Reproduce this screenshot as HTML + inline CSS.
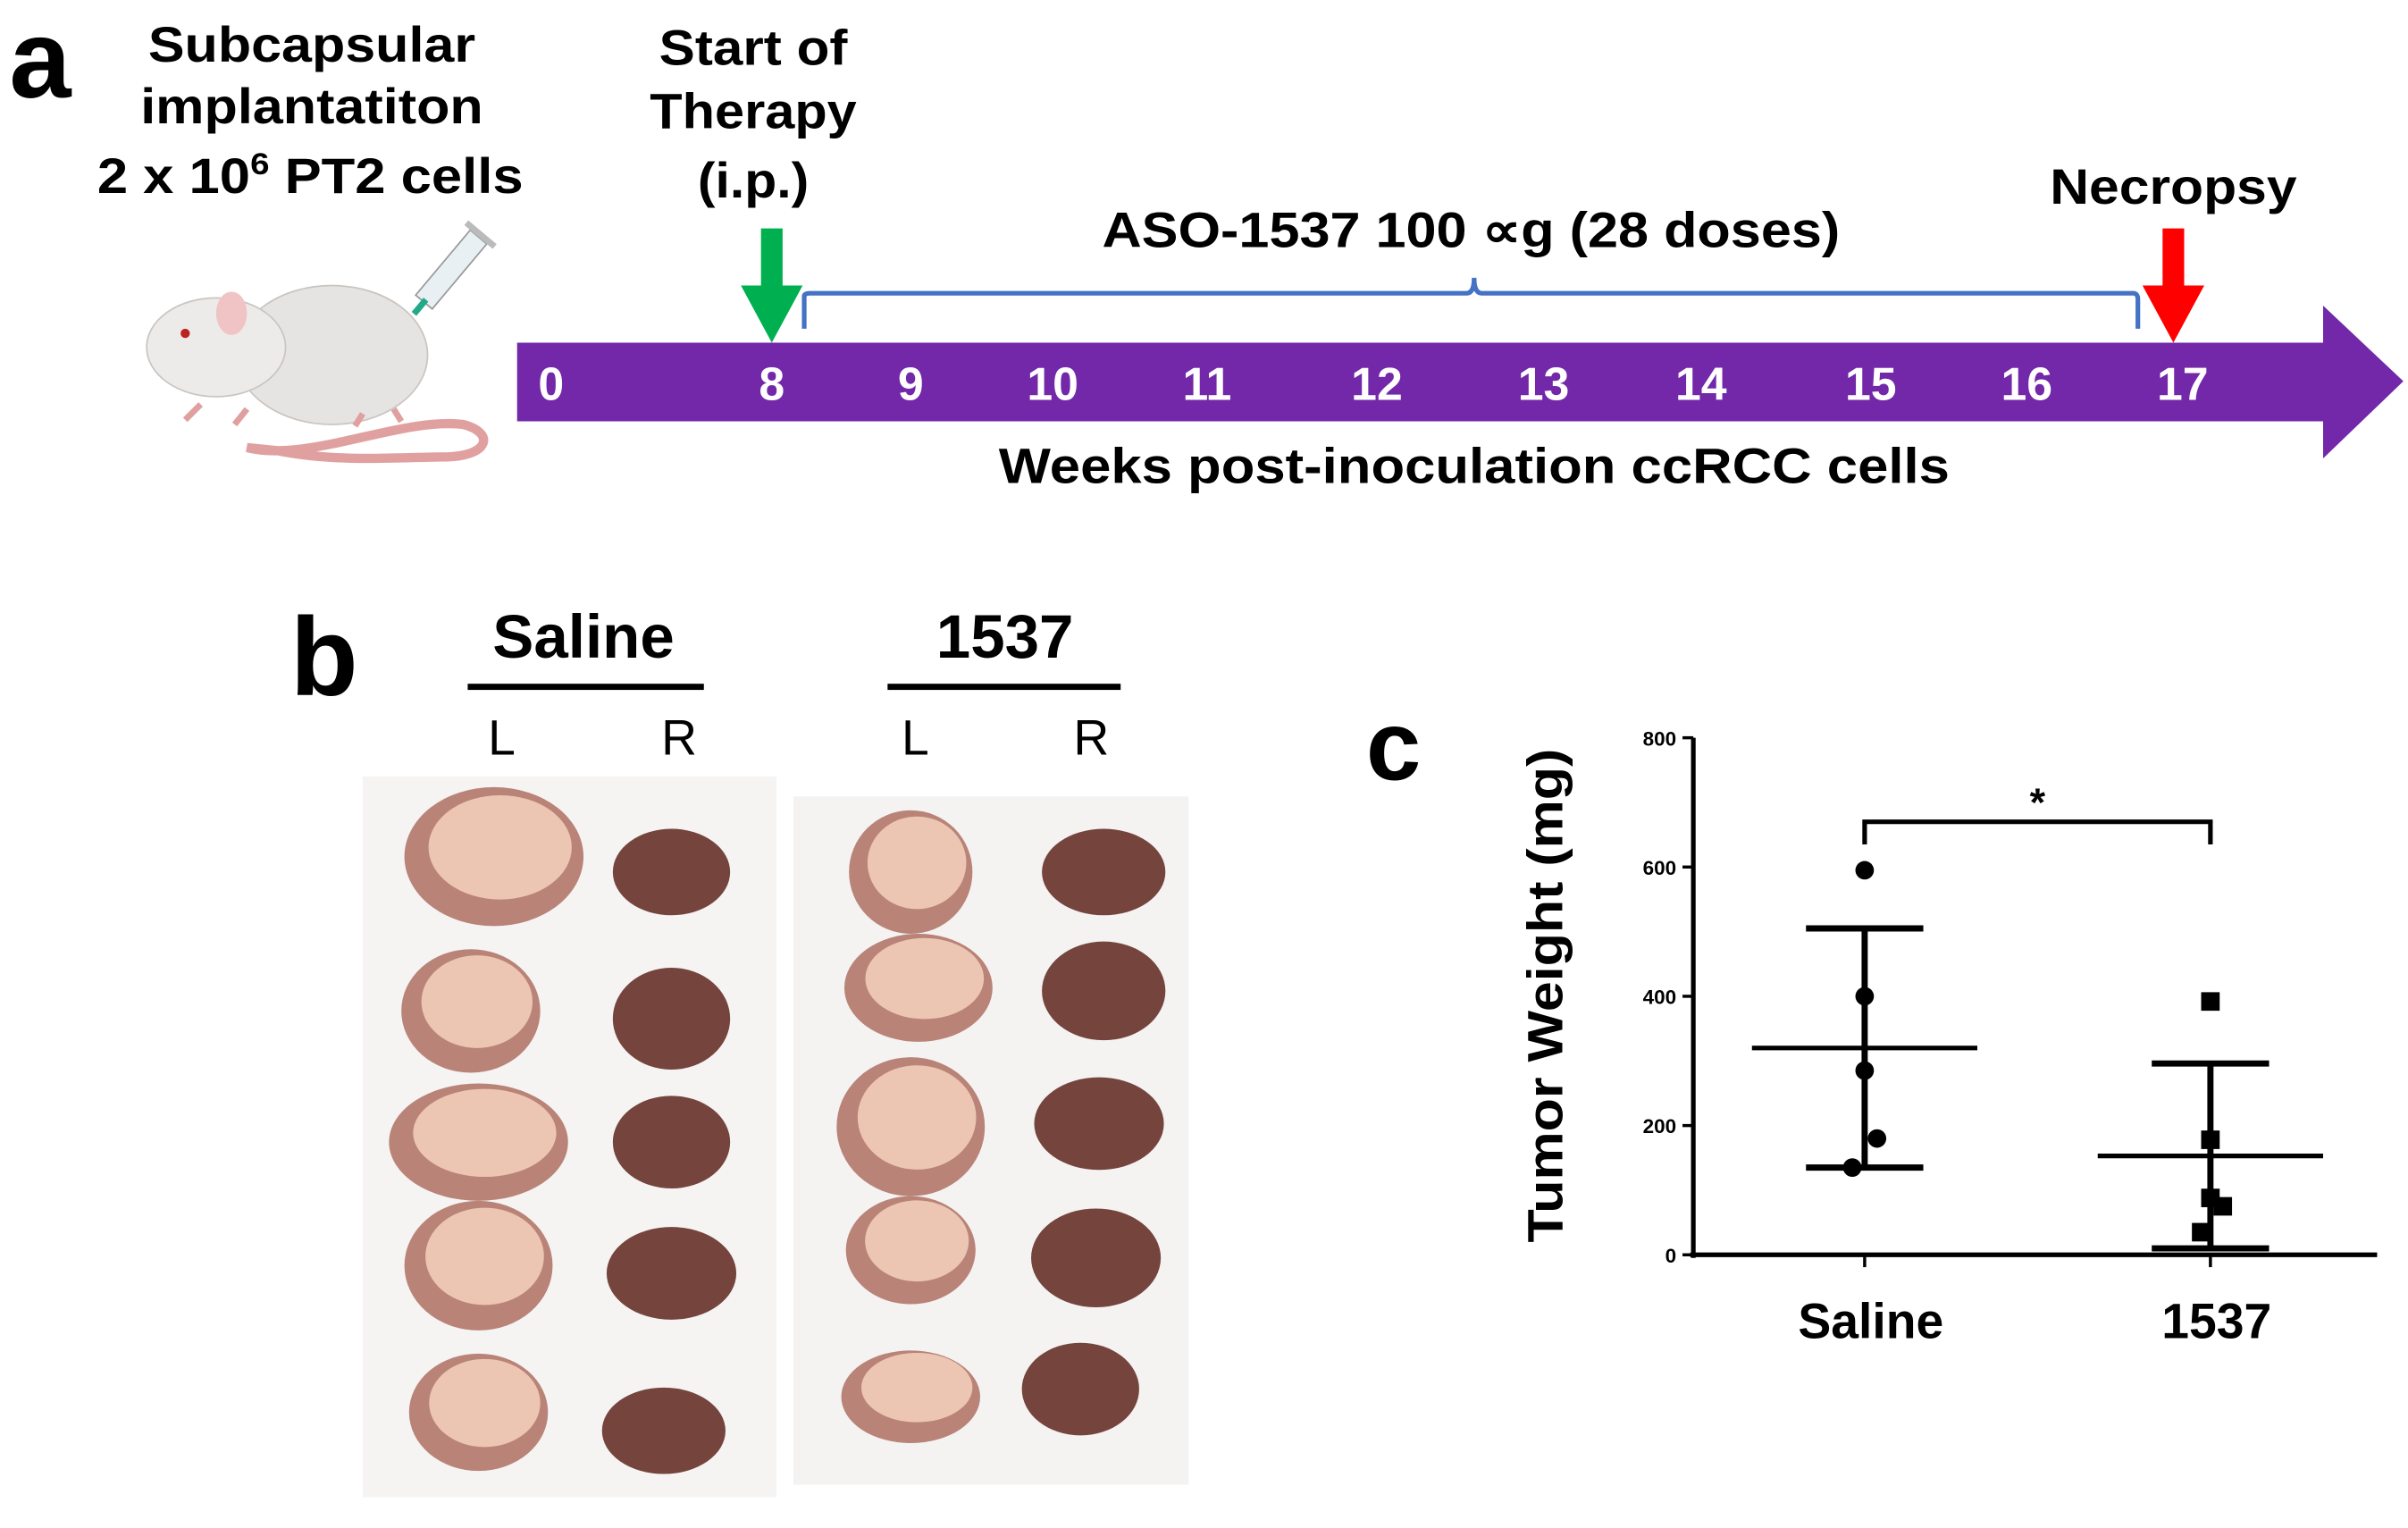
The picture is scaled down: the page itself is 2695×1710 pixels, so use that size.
<!DOCTYPE html>
<html><head><meta charset="utf-8"><style>
html,body{margin:0;padding:0;background:#fff;}
svg{display:block;}
text{font-family:"Liberation Sans",Arial,sans-serif;font-weight:bold;}
</style></head><body>
<svg id="fig" width="2695" height="1710" viewBox="0 0 1560 990" preserveAspectRatio="none" xmlns="http://www.w3.org/2000/svg">
<rect width="1560" height="990" fill="#fff"/>
<!-- Panel a -->
<g>
<text x="6" y="63" font-size="72">a</text>
<g font-size="32" text-anchor="middle">
<text x="202" y="40" textLength="212" lengthAdjust="spacingAndGlyphs">Subcapsular</text>
<text x="202" y="80" textLength="222" lengthAdjust="spacingAndGlyphs">implantatiton</text>
<text x="201" y="125" textLength="276" lengthAdjust="spacingAndGlyphs">2 x 10<tspan font-size="20" dy="-12">6</tspan><tspan dy="12"> PT2 cells</tspan></text>
</g>
<g>
<path d="M160 290 C 200 300 260 270 300 275 C 320 280 318 295 290 296 C 260 296 220 300 180 292 Z" fill="none" stroke="#e0a0a0" stroke-width="6"/>
<ellipse cx="215" cy="230" rx="62" ry="45" fill="#e6e4e2" stroke="#c9c5c0"/>
<ellipse cx="140" cy="225" rx="45" ry="32" fill="#ecebea" stroke="#c9c5c0"/>
<ellipse cx="150" cy="203" rx="10" ry="14" fill="#f0c4c4"/>
<circle cx="120" cy="216" r="3" fill="#b22"/>
<path d="M130 262 l-10 10 M160 265 l-8 10 M235 268 l-5 8 M255 265 l5 8" stroke="#e0a0a0" stroke-width="4"/>
<g transform="rotate(-50 292 175)"><rect x="265" y="168" width="55" height="14" fill="#e8f0f4" stroke="#999"/><rect x="320" y="163" width="4" height="24" fill="#bbb"/><rect x="255" y="173" width="12" height="4" fill="#2a8"/></g>
</g>
<g font-size="32" text-anchor="middle">
<text x="488" y="42" textLength="122" lengthAdjust="spacingAndGlyphs">Start of</text>
<text x="488" y="83" textLength="134" lengthAdjust="spacingAndGlyphs">Therapy</text>
<text x="488" y="128" textLength="72" lengthAdjust="spacingAndGlyphs">(i.p.)</text>
</g>
<text x="953" y="160" font-size="32" text-anchor="middle" textLength="478" lengthAdjust="spacingAndGlyphs">ASO-1537 100 ∝g (28 doses)</text>
<text x="1408" y="132" font-size="32" text-anchor="middle" textLength="160" lengthAdjust="spacingAndGlyphs">Necropsy</text>
<path d="M521 213 L521 192 Q521 190 525 190 L950 190 Q955 190 955 180 Q955 190 960 190 L1382 190 Q1385 190 1385 194 L1385 213" fill="none" stroke="#4472c4" stroke-width="3"/>
<path d="M335 222 L1505 222 L1505 198 L1557 247 L1505 297 L1505 273 L335 273 Z" fill="#7228a8"/>
<g id="weeks" fill="#fff" font-size="30" text-anchor="middle"></g>
<path d="M493 148 L507 148 L507 185 L520 185 L500 222 L480 185 L493 185 Z" fill="#00b050"/>
<path d="M1401 148 L1415 148 L1415 185 L1428 185 L1408 222 L1388 185 L1401 185 Z" fill="#ff0000"/>
<text x="955" y="313" font-size="32" text-anchor="middle" textLength="616" lengthAdjust="spacingAndGlyphs">Weeks post-inoculation ccRCC cells</text>
</g>
<!-- Panel b -->
<g>
<text x="188" y="450" font-size="72">b</text>
<text x="378" y="426" font-size="40" text-anchor="middle">Saline</text>
<rect x="303" y="443" width="153" height="4" fill="#000"/>
<text x="651" y="426" font-size="40" text-anchor="middle">1537</text>
<rect x="575" y="443" width="151" height="4" fill="#000"/>
<g font-size="32" text-anchor="middle">
<text x="325" y="489" style="font-weight:normal">L</text><text x="440" y="489" style="font-weight:normal">R</text>
<text x="593" y="489" style="font-weight:normal">L</text><text x="707" y="489" style="font-weight:normal">R</text>
</g>
<rect x="235" y="503" width="268" height="467" fill="#f5f4f3"/>
<rect x="514" y="516" width="256" height="446" fill="#f4f3f2"/>
<g id="organs"></g>
</g>
<!-- Panel c -->
<g>
<text x="885" y="505" font-size="64">c</text>
<g id="chart"></g>
</g>
</svg>
<script>
const NS="http://www.w3.org/2000/svg";
function mk(parent,tag,attrs){const e=document.createElementNS(NS,tag);for(const k in attrs)e.setAttribute(k,attrs[k]);parent.appendChild(e);return e;}
// timeline
const weekLabels=["0","8","9","10","11","12","13","14","15","16","17"];
const weekX=[357,500,590,682,782,892,1000,1102,1212,1313,1414];
const wg=document.getElementById('weeks');
weekLabels.forEach((w,i)=>{const t=mk(wg,'text',{x:weekX[i],y:259});t.textContent=w;

});
// organs
const og=document.getElementById('organs');
const tumors=[[320,555,58,45],[305,655,45,40],[310,740,58,38],[310,820,48,42],[310,915,45,38],[590,565,40,40],[595,640,48,35],[590,730,48,45],[590,810,42,35],[590,905,45,30]];
const kidneys=[[435,565,38,28],[435,660,38,33],[435,740,38,30],[435,825,42,30],[430,927,40,28],[715,565,40,28],[715,642,40,32],[712,728,42,30],[710,815,42,32],[700,900,38,30]];
tumors.forEach(o=>{const e=mk(og,'ellipse',{cx:o[0],cy:o[1],rx:o[2],ry:o[3],fill:'#b98378'});


mk(og,'ellipse',{cx:o[0]+4,cy:o[1]-6,rx:o[2]*0.8,ry:o[3]*0.75,fill:'#ecc6b3'});});
kidneys.forEach(o=>{const e=mk(og,'ellipse',{cx:o[0],cy:o[1],rx:o[2],ry:o[3],fill:'#74443d'});

});
// chart data
const groups=["Saline","1537"];
const salineValues=[595,400,285,180,135];
const asoValues=[392,178,88,75,35];
const means=[320,153];
const sdUpper=[505,296];
const sdLower=[135,10];
const yTicks=[0,200,400,600,800];
const sigLevel=670;
const X0=1097,Y0=813,Y800=478;
const y=v=>Y0-(v/800)*(Y0-Y800);
const xc=[1208,1432];
const g=document.getElementById('chart');
let a=mk(g,'line',{x1:X0,y1:y(0)+2,x2:X0,y2:y(800),stroke:'#000','stroke-width':3});

a=mk(g,'line',{x1:X0-2,y1:y(0),x2:1540,y2:y(0),stroke:'#000','stroke-width':3});

yTicks.forEach(v=>{mk(g,'line',{x1:X0-7,y1:y(v),x2:X0,y2:y(v),stroke:'#000','stroke-width':2});
const t=mk(g,'text',{x:X0-11,y:y(v)+5,'font-size':13,'text-anchor':'end'});t.textContent=v;

});
xc.forEach(x=>mk(g,'line',{x1:x,y1:y(0),x2:x,y2:y(0)+8,stroke:'#000','stroke-width':2}));
groups.forEach((n,i)=>{const t=mk(g,'text',{x:xc[i]+4,y:867,'font-size':32,'text-anchor':'middle'});t.textContent=n;

});
const yt=mk(g,'text',{x:0,y:0,'font-size':32,'text-anchor':'middle',transform:'translate(1012 645) rotate(-90)',textLength:320,lengthAdjust:'spacingAndGlyphs'});
yt.textContent='Tumor Weight (mg)';


// error bars & means
groups.forEach((n,i)=>{const x=xc[i];
let e=mk(g,'line',{x1:x,y1:y(sdUpper[i]),x2:x,y2:y(sdLower[i]),stroke:'#000','stroke-width':4});

[sdUpper[i],sdLower[i]].forEach(v=>mk(g,'line',{x1:x-38,y1:y(v),x2:x+38,y2:y(v),stroke:'#000','stroke-width':4}));
e=mk(g,'line',{x1:x-73,y1:y(means[i]),x2:x+73,y2:y(means[i]),stroke:'#000','stroke-width':3});
});
const sOff=[0,0,0,8,-8],aOff=[0,0,0,8,-6];
salineValues.forEach((v,i)=>{const c=mk(g,'circle',{cx:xc[0]+sOff[i],cy:y(v),r:6,fill:'#000'});

});
asoValues.forEach((v,i)=>{const r=mk(g,'rect',{x:xc[1]+aOff[i]-6,y:y(v)-6,width:12,height:12,fill:'#000'});

});
const br=mk(g,'path',{d:`M${xc[0]} ${y(sigLevel-35)} L${xc[0]} ${y(sigLevel)} L${xc[1]} ${y(sigLevel)} L${xc[1]} ${y(sigLevel-35)}`,fill:'none',stroke:'#000','stroke-width':3});


const st=mk(g,'text',{x:(xc[0]+xc[1])/2,y:y(sigLevel)-4,'font-size':26,'text-anchor':'middle'});st.textContent='*';


</script>
</body></html>
